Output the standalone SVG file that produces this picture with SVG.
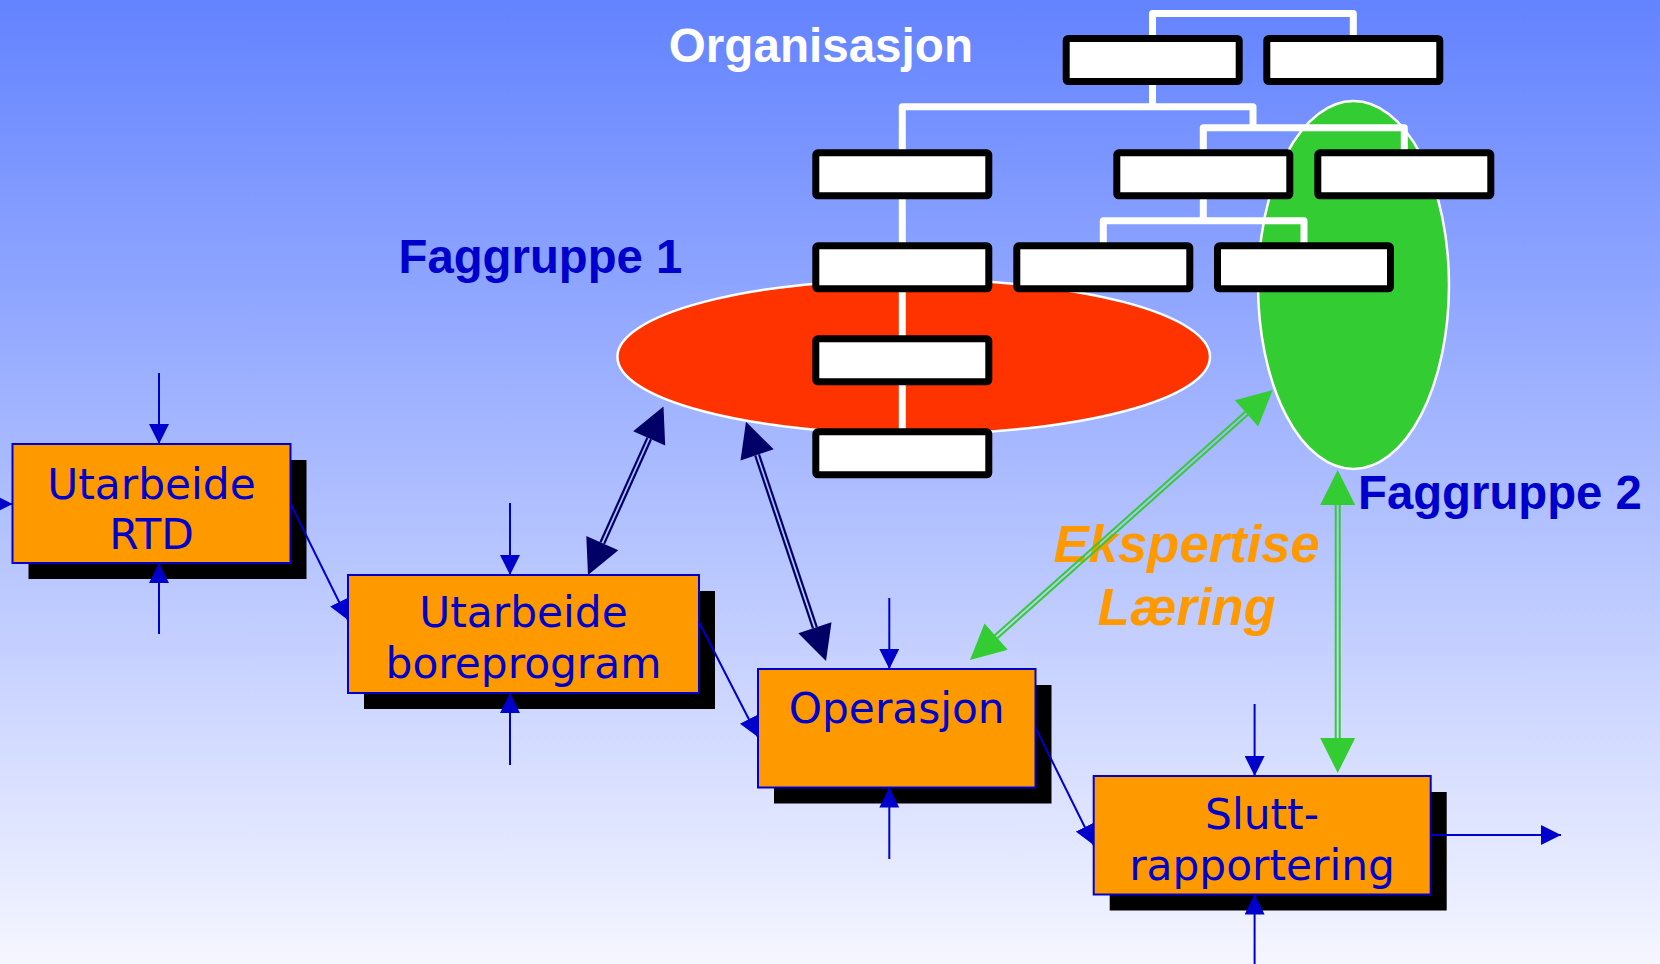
<svg xmlns="http://www.w3.org/2000/svg" width="1660" height="964" viewBox="0 0 1660 964">
  <defs>
    <linearGradient id="bg" x1="0" y1="0" x2="0" y2="1">
      <stop offset="0" stop-color="#6383ff"/>
      <stop offset="1" stop-color="#f5f6ff"/>
    </linearGradient>
    <marker id="tip" markerUnits="userSpaceOnUse" markerWidth="20" markerHeight="20" refX="20" refY="10" orient="auto">
      <path d="M0,0 L20,10 L0,20 Z" fill="#0000cc"/>
    </marker>
    <style>
      .org-line { fill: none; stroke: #ffffff; stroke-width: 7; stroke-linejoin: round; }
      .org-box { fill: #ffffff; stroke: #000000; stroke-width: 7; }
      .shadow { fill: #000000; }
      .step { fill: #ff9900; stroke: #0000cc; stroke-width: 2; }
      .step-text { font-family: "DejaVu Sans", Verdana, sans-serif; font-size: 42.3px; fill: #0000cc; text-anchor: middle; }
      .flow { stroke: #0000cc; stroke-width: 2; fill: none; marker-end: url(#tip); }
      .group-label { font-family: "Liberation Sans", Arial, sans-serif; font-weight: bold; font-size: 47.3px; fill: #0000cc; }
      .title { font-family: "Liberation Sans", Arial, sans-serif; font-weight: bold; font-size: 47.6px; fill: #ffffff; }
      .knowledge { font-family: "Liberation Sans", Arial, sans-serif; font-weight: bold; font-style: italic; font-size: 52.6px; fill: #ff9900; text-anchor: middle; }
      .navy-shaft { stroke: #000066; stroke-width: 2.2; }
      .navy-head { fill: #000066; }
      .green-shaft { stroke: #33cc33; stroke-width: 2; }
      .green-head { fill: #33cc33; }
    </style>
  </defs>

  <!-- backdrop -->
  <rect x="0" y="0" width="1660" height="964" fill="url(#bg)"/>

  <!-- professional groups -->
  <g id="faggruppe1">
    <ellipse cx="913.7" cy="356.7" rx="296.3" ry="77.5" fill="#ff3300" stroke="#ffffff" stroke-width="2.5"/>
    <text class="group-label" x="398.5" y="273.3">Faggruppe 1</text>
  </g>
  <g id="faggruppe2">
    <ellipse cx="1353.5" cy="285" rx="95.5" ry="184" fill="#33cc33" stroke="#ffffff" stroke-width="2.5"/>
    <text class="group-label" x="1358" y="509">Faggruppe 2</text>
  </g>

  <!-- organisation chart -->
  <g id="organisasjon">
    <text class="title" x="668.8" y="61.7">Organisasjon</text>
    <g id="org-lines">
      <path class="org-line" d="M1152.5,40 V13.5 H1353.3 V40"/>
      <path class="org-line" d="M1152.5,84 V106.7"/>
      <path class="org-line" d="M902.3,152 V106.7 H1253 V127.7"/>
      <path class="org-line" d="M1203.3,152 V127.7 H1404.3 V152"/>
      <path class="org-line" d="M902.3,199 V430"/>
      <path class="org-line" d="M1203.3,199 V220.7"/>
      <path class="org-line" d="M1103.3,245 V220.7 H1304 V245"/>
    </g>
    <g id="org-boxes">
      <rect class="org-box" x="1066.2" y="38.5" width="173" height="43" rx="2"/>
      <rect class="org-box" x="1266.8" y="38.5" width="173" height="43" rx="2"/>
      <rect class="org-box" x="815.8" y="152.8" width="173" height="43" rx="2"/>
      <rect class="org-box" x="1116.8" y="152.8" width="173" height="43" rx="2"/>
      <rect class="org-box" x="1317.8" y="152.8" width="173" height="43" rx="2"/>
      <rect class="org-box" x="815.8" y="245.8" width="173" height="43" rx="2"/>
      <rect class="org-box" x="1016.8" y="245.8" width="173" height="43" rx="2"/>
      <rect class="org-box" x="1217.5" y="245.8" width="173" height="43" rx="2"/>
      <rect class="org-box" x="815.8" y="338.8" width="173" height="43" rx="2"/>
      <rect class="org-box" x="815.8" y="431.8" width="173" height="43" rx="2"/>
    </g>
  </g>

  <!-- knowledge label -->
  <g id="ekspertise">
    <text class="knowledge" x="1186.5" y="561.7">Ekspertise</text>
    <text class="knowledge" x="1186.5" y="625">Læring</text>
  </g>

  <!-- process steps -->
  <g id="utarbeide-rtd">
    <rect class="shadow" x="28.5" y="460" width="278" height="119"/>
    <rect class="step" x="12.5" y="444" width="278" height="119"/>
    <text class="step-text" x="151.5" y="498.5">Utarbeide</text>
    <text class="step-text" x="151.5" y="548.5">RTD</text>
  </g>
  <g id="utarbeide-boreprogram">
    <rect class="shadow" x="364" y="591" width="351" height="118"/>
    <rect class="step" x="348" y="575" width="351" height="118"/>
    <text class="step-text" x="523.5" y="627">Utarbeide</text>
    <text class="step-text" x="523.5" y="677.5">boreprogram</text>
  </g>
  <g id="operasjon">
    <rect class="shadow" x="774" y="685" width="277.5" height="118.5"/>
    <rect class="step" x="758" y="669" width="277.5" height="118.5"/>
    <text class="step-text" x="896.7" y="722.7">Operasjon</text>
  </g>
  <g id="sluttrapportering">
    <rect class="shadow" x="1109.7" y="792" width="337" height="118.5"/>
    <rect class="step" x="1093.7" y="776" width="337" height="118.5"/>
    <text class="step-text" x="1262" y="829">Slutt-</text>
    <text class="step-text" x="1262" y="880">rapportering</text>
  </g>

  <!-- connectors -->
  <g id="connectors">
    <!-- process flow -->
    <line class="flow" x1="290.7" y1="504" x2="348" y2="620"/>
    <line class="flow" x1="699" y1="622" x2="758" y2="737"/>
    <line class="flow" x1="1035.7" y1="728" x2="1093.7" y2="845"/>
    <line class="flow" x1="-10" y1="504" x2="12.5" y2="504"/>
    <line class="flow" x1="1430.7" y1="835" x2="1561" y2="835"/>

    <!-- inputs and resources -->
    <line class="flow" x1="159" y1="373" x2="159" y2="444"/>
    <line class="flow" x1="159" y1="634" x2="159" y2="563"/>
    <line class="flow" x1="510" y1="503" x2="510" y2="575"/>
    <line class="flow" x1="510" y1="765" x2="510" y2="693"/>
    <line class="flow" x1="889.3" y1="598" x2="889.3" y2="669"/>
    <line class="flow" x1="889.3" y1="859" x2="889.3" y2="787.5"/>
    <line class="flow" x1="1254.6" y1="704" x2="1254.6" y2="776"/>
    <line class="flow" x1="1254.6" y1="966" x2="1254.6" y2="894.5"/>

    <!-- Faggruppe 1 <-> boreprogram -->
    <line class="navy-shaft" x1="604.1" y1="543.9" x2="651.0" y2="439.3"/>
    <line class="navy-shaft" x1="600.5" y1="542.2" x2="647.4" y2="437.6"/>
    <polygon class="navy-head" points="663.5,406.5 665.2,445.6 633.2,431.3"/>
    <polygon class="navy-head" points="588,575 618.3,550.2 586.3,535.9"/>

    <!-- Faggruppe 1 <-> Operasjon -->
    <line class="navy-shaft" x1="759.0" y1="454.3" x2="816.8" y2="627.2"/>
    <line class="navy-shaft" x1="755.2" y1="455.5" x2="813.0" y2="628.4"/>
    <polygon class="navy-head" points="746,421.7 773.7,449.35 740.5,460.45"/>
    <polygon class="navy-head" points="826,661 831.5,622.25 798.3,633.35"/>

    <!-- Faggruppe 2 <-> Operasjon -->
    <line class="green-shaft" x1="1247.9" y1="414.8" x2="997.4" y2="638.2"/>
    <line class="green-shaft" x1="1245.3" y1="411.8" x2="994.8" y2="635.2"/>
    <polygon class="green-head" points="1272.7,390 1258.2,426.4 1234.9,400.2"/>
    <polygon class="green-head" points="970,660 1007.8,649.8 984.5,623.6"/>

    <!-- Faggruppe 2 <-> Sluttrapportering -->
    <line class="green-shaft" x1="1335.7" y1="504" x2="1335.7" y2="739"/>
    <line class="green-shaft" x1="1339.7" y1="504" x2="1339.7" y2="739"/>
    <polygon class="green-head" points="1337.7,470 1355.2,505 1320.2,505"/>
    <polygon class="green-head" points="1337.7,773 1320.2,738 1355.2,738"/>
  </g>
</svg>
